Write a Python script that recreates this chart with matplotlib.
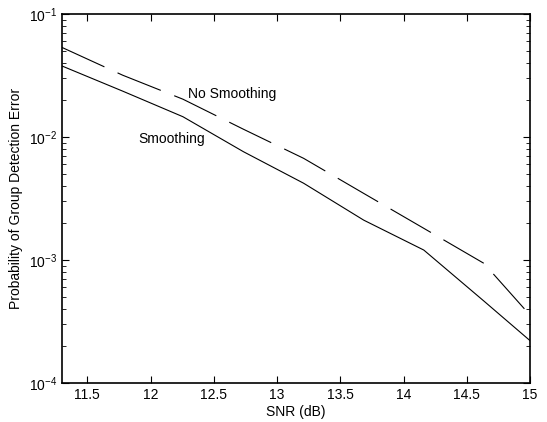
import matplotlib
matplotlib.use("Agg")
import matplotlib.pyplot as plt
from matplotlib.ticker import LogLocator, FixedLocator

plt.rcParams['font.family'] = ['Liberation Sans', 'DejaVu Sans']
plt.rcParams['mathtext.fontset'] = 'custom'
plt.rcParams['mathtext.rm'] = 'Liberation Sans'
plt.rcParams['mathtext.it'] = 'Liberation Sans'
plt.rcParams['lines.scale_dashes'] = False

snr = [11.3, 11.78, 12.256, 12.735, 13.21, 13.685, 14.16, 14.635, 15.0]
no_smoothing = [0.0535, 0.0318, 0.0203, 0.01156, 0.00671, 0.00348, 0.00181, 0.00094, 0.000356]
smoothing = [0.0378, 0.0236, 0.01462, 0.00759, 0.00421, 0.00211, 0.001205, 0.000464, 0.000221]
xticks = [11.5, 12, 12.5, 13, 13.5, 14, 14.5, 15]

fig = plt.figure(figsize=(5.47, 4.22), dpi=100)
ax = fig.add_axes([0.1133, 0.0924, 0.8557, 0.8744])

ax.plot(snr, no_smoothing, color='black', linewidth=0.8, linestyle=(0, (33.6, 10.4)))
ax.plot(snr, smoothing, color='black', linewidth=0.8)

ax.set_yscale('log')
ax.set_xlim(11.3, 15)
ax.set_ylim(1e-4, 1e-1)
ax.xaxis.set_major_locator(FixedLocator(xticks))
ax.set_xticklabels([f"{t:g}" for t in xticks])
ax.yaxis.set_major_locator(LogLocator(base=10, numticks=10))
ax.yaxis.set_minor_locator(LogLocator(base=10, subs=range(2, 10), numticks=20))

ax.tick_params(which='both', direction='in', top=True, right=True, labelsize=10, colors='black')
ax.tick_params(which='major', length=5, width=0.8)
ax.tick_params(which='minor', length=3, width=0.6)
for s in ax.spines.values():
    s.set_linewidth(1.2)

ax.set_xlabel('SNR (dB)', fontsize=10, labelpad=2)
ax.set_ylabel('Probability of Group Detection Error', fontsize=10, labelpad=4)

ax.text(12.3, 10**(-1 - (94 - 14) / 123), 'No Smoothing', fontsize=10, va='center', ha='left')
ax.text(11.905, 10**(-1 - (139 - 14) / 123), 'Smoothing', fontsize=10, va='center', ha='left')

fig.savefig('out.png', dpi=100)
